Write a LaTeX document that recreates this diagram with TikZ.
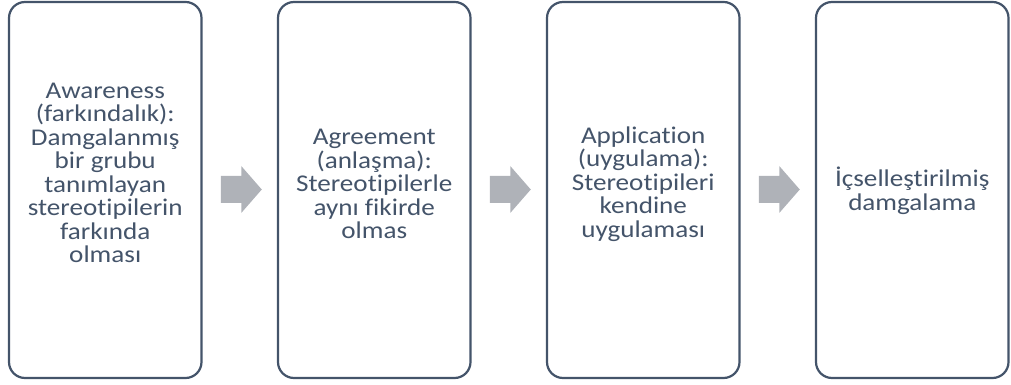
\documentclass[tikz,border=0pt]{standalone}
\usepackage{fontspec}
\newfontfamily\boxfont{Carlito}[FakeStretch=1.13,Ligatures=NoCommon]
\usetikzlibrary{calc}
\definecolor{slate}{HTML}{44546A}
\definecolor{arrowgray}{HTML}{AFB2B8}
\tikzset{
  stagebox/.style={draw=slate, line width=2.2pt, rounded corners=16pt, fill=white,
    minimum width=192.5pt, minimum height=376pt, inner sep=0pt},
  stagetext/.style={align=center, text=slate, inner sep=0pt,
    font=\boxfont\fontsize{24}{23.5}\selectfont},
  flowarrow/.style={fill=arrowgray, draw=none}
}
\newcommand\blockarrow[1]{%
  \fill[flowarrow] ($(#1)+(-20.5,-13.5)$) -- ++(20.5,0) -- ++(0,-10) -- ++(20.5,23.5)
    -- ++(-20.5,23.5) -- ++(0,-10) -- ++(-20.5,0) -- cycle;}
\begin{document}
\begin{tikzpicture}[x=1pt,y=1pt]
\useasboundingbox (0,0) rectangle (1011,385);
\node[stagebox] (b1) at (105.25,195) {};
\node[stagebox] (b2) at (374.25,195) {};
\node[stagebox] (b3) at (643.25,195) {};
\node[stagebox] (b4) at (912.25,195) {};
\node[stagetext] (t1) at ([yshift=17pt]b1.center) {Awareness\\(farkındalık):\\Damgalanmış\\bir grubu\\tanımlayan\\stereotipilerin\\farkında\\olması};
\node[stagetext] (t2) at ([yshift=6pt]b2.center) {Agreement\\(anlaşma):\\Stereotipilerle\\aynı fikirde\\olmas};
\node[stagetext] (t3) at ([yshift=6pt]b3.center) {Application\\(uygulama):\\Stereotipileri\\kendine\\uygulaması};
\node[stagetext] (t4) at ([yshift=-1pt]b4.center) {İçselleştirilmiş\\damgalama};
\coordinate (m1) at ($(b1.east)!0.5!(b2.west)+(1.5,0.5)$);
\coordinate (m2) at ($(b2.east)!0.5!(b3.west)+(1.5,0.5)$);
\coordinate (m3) at ($(b3.east)!0.5!(b4.west)+(1.5,0.5)$);
\blockarrow{m1}
\blockarrow{m2}
\blockarrow{m3}
\end{tikzpicture}
\end{document}
